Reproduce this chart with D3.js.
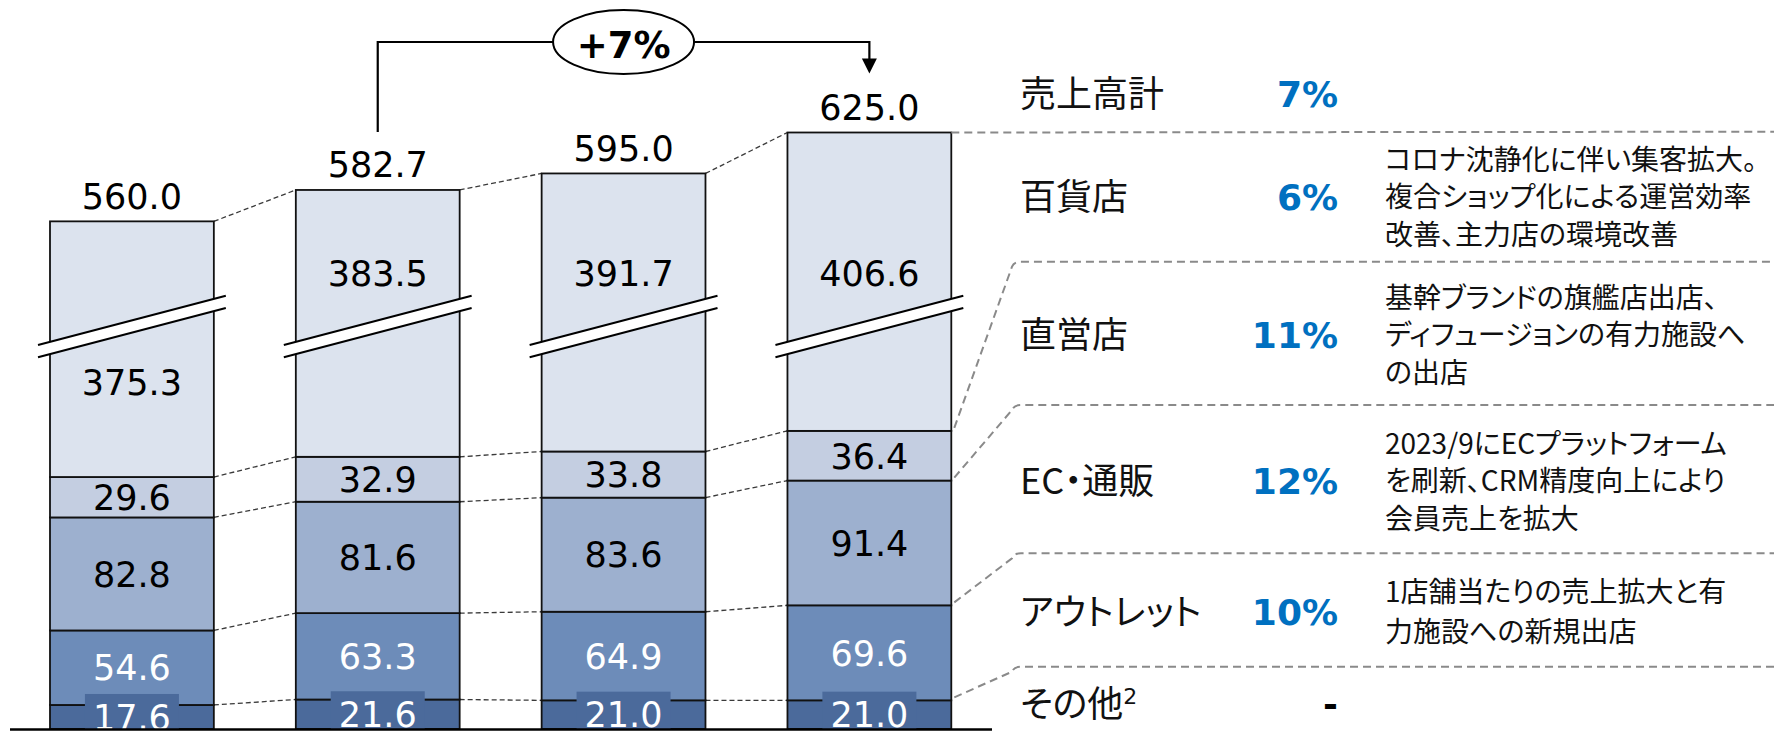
<!DOCTYPE html>
<html><head><meta charset="utf-8">
<script src="https://cdn.jsdelivr.net/npm/d3@7"></script>
<style>html,body{margin:0;padding:0;background:#fff;} svg{display:block;} .jp{font-feature-settings:"palt" 1;}</style>
</head><body><svg id="chart" width="1774" height="731"></svg>
<script>
// ---------------- data ----------------
const periods = ["P1", "P2", "P3", "P4"];
const segmentNames = ["その他", "アウトレット", "EC・通販", "直営店", "百貨店"];
const sonotaValues = [17.6, 21.6, 21.0, 21.0];
const outletValues = [54.6, 63.3, 64.9, 69.6];
const ecValues = [82.8, 81.6, 83.6, 91.4];
const chokueiValues = [29.6, 32.9, 33.8, 36.4];
const hyakkatenValues = [375.3, 383.5, 391.7, 406.6];
const totalValues = [560.0, 582.7, 595.0, 625.0];
const growthLabel = "+7%";
const axisBreakAmount = 188; // value units hidden by the axis break
const rowNames = ["売上高計", "百貨店", "直営店", "EC・通販", "アウトレット", "その他"];
const rowGrowth = ["7%", "6%", "11%", "12%", "10%", "-"];
const rowNotes = [
  [],
  ["コロナ沈静化に伴い集客拡大。", "複合ショップ化による運営効率", "改善、主力店の環境改善"],
  ["基幹ブランドの旗艦店出店、", "ディフュージョンの有力施設へ", "の出店"],
  ["2023/9にECプラットフォーム", "を刷新、CRM精度向上により", "会員売上を拡大"],
  ["1店舗当たりの売上拡大と有", "力施設への新規出店"],
  []
];

// ---------------- styles ----------------
const segColors = ["#4B6A9B", "#6D8CB9", "#9DB0CF", "#C4CEE1", "#DCE3EE"];
const segText = ["#ffffff", "#ffffff", "#000000", "#000000", "#000000"];
const numFont = "'DejaVu Sans', Verdana, sans-serif";
const jpFont = "'Noto Sans CJK JP', 'Noto Sans', sans-serif";

const svg = d3.select("#chart");
const baseY = 729;
const x = d3.scaleBand().domain(periods).range([50, 951.3]).paddingInner(0.3335).paddingOuter(0);
const bw = x.bandwidth();
const y = d3.scaleLinear().domain([0, 460]).range([baseY, baseY - 460 * 1.365]);

const seriesValues = [sonotaValues, outletValues, ecValues, chokueiValues, hyakkatenValues];
const stackData = periods.map((p, i) => {
  const o = { period: p };
  segmentNames.forEach((n, k) => o[n] = seriesValues[k][i]);
  return o;
});
const stacked = d3.stack().keys(segmentNames)(stackData);
const last = segmentNames.length - 1;
const yTop = (k, i) => y(k === last ? stacked[k][i][1] - axisBreakAmount : stacked[k][i][1]);
const yBot = (k, i) => y(stacked[k][i][0]);

// ---------- dashed connectors between bars ----------
const conn = svg.append("g");
for (let i = 0; i < periods.length - 1; i++) {
  for (let k = 0; k <= last; k++) {
    conn.append("line")
      .attr("x1", x(periods[i]) + bw).attr("y1", yTop(k, i))
      .attr("x2", x(periods[i + 1])).attr("y2", yTop(k, i + 1))
      .attr("stroke", "#3a3a3a").attr("stroke-width", 1.3).attr("stroke-dasharray", "5,3");
  }
}

// ---------- bars ----------
const bars = svg.append("g");
stacked.forEach((s, k) => {
  bars.selectAll(null).data(s).enter().append("rect")
    .attr("x", d => x(d.data.period))
    .attr("y", (d, i) => yTop(k, i))
    .attr("width", bw)
    .attr("height", (d, i) => yBot(k, i) - yTop(k, i))
    .attr("fill", segColors[k])
    .attr("stroke", "#111").attr("stroke-width", 1.8);
});

// ---------- axis break ----------
const breakCY = 326.5, halfGap = 6.2, slope = 0.2622, ext = 12;
periods.forEach(p => {
  const cx = x(p) + bw / 2;
  const x0 = x(p) - ext, x1 = x(p) + bw + ext;
  const up = xx => breakCY - halfGap - slope * (xx - cx);
  const lo = xx => breakCY + halfGap - slope * (xx - cx);
  svg.append("polygon")
    .attr("points", [[x0, up(x0)], [x1, up(x1)], [x1, lo(x1)], [x0, lo(x0)]].map(d => d.join(",")).join(" "))
    .attr("fill", "#fff");
  [up, lo].forEach(f => svg.append("line")
    .attr("x1", x0).attr("y1", f(x0)).attr("x2", x1).attr("y2", f(x1))
    .attr("stroke", "#000").attr("stroke-width", 2));
});

// ---------- segment labels ----------
const fs = 35;
const lbl = svg.append("g").attr("font-family", numFont).attr("font-size", fs).attr("text-anchor", "middle");
svg.append("clipPath").attr("id", "plotclip").append("rect")
  .attr("x", 0).attr("y", 0).attr("width", 1000).attr("height", baseY);
const lblClip = svg.append("g").attr("clip-path", "url(#plotclip)")
  .attr("font-family", numFont).attr("font-size", fs).attr("text-anchor", "middle");

stacked.forEach((s, k) => {
  s.forEach((d, i) => {
    const cx = x(d.data.period) + bw / 2;
    const v = d[1] - d[0];
    let cy;
    if (k === last) {
      const topPiece = (breakCY - halfGap) - yTop(k, i);
      cy = topPiece > 110 ? breakCY - 53 : breakCY + 55.5;
    } else {
      cy = (yTop(k, i) + yBot(k, i)) / 2;
    }
    const g = k === 0 ? lblClip : lbl;
    if (k === 0) {
      g.append("rect").attr("x", cx - 47).attr("y", cy - 23).attr("width", 94).attr("height", 46)
        .attr("fill", segColors[0]);
    }
    g.append("text").attr("x", cx).attr("y", cy + 0.365 * fs)
      .attr("fill", segText[k]).text(v.toFixed(1));
  });
});

// totals
periods.forEach((p, i) => {
  lbl.append("text").attr("x", x(p) + bw / 2).attr("y", yTop(last, i) - 12.5)
    .attr("fill", "#000").text(totalValues[i].toFixed(1));
});

// ---------- axis line ----------
svg.append("line").attr("x1", 10).attr("x2", 992).attr("y1", baseY + 0.5).attr("y2", baseY + 0.5)
  .attr("stroke", "#000").attr("stroke-width", 2.5);

// ---------- growth bracket ----------
const cxA = x(periods[1]) + bw / 2, cxB = x(periods[3]) + bw / 2;
const ecx = (cxA + cxB) / 2, ecy = 42, erx = 70.5, ery = 32;
const topA = yTop(last, 1) - 58, tipY = yTop(last, 3) - 59;
svg.append("path")
  .attr("d", `M${cxA},${topA}V${ecy}H${ecx - erx}M${ecx + erx},${ecy}H${cxB}V${tipY - 14}`)
  .attr("fill", "none").attr("stroke", "#000").attr("stroke-width", 2.2);
svg.append("polygon")
  .attr("points", `${cxB - 7.5},${tipY - 15} ${cxB + 7.5},${tipY - 15} ${cxB},${tipY}`)
  .attr("fill", "#000");
svg.append("ellipse").attr("cx", ecx).attr("cy", ecy).attr("rx", erx).attr("ry", ery)
  .attr("fill", "#fff").attr("stroke", "#000").attr("stroke-width", 2);
svg.append("text").attr("x", ecx).attr("y", ecy + 16.3)
  .attr("font-family", numFont).attr("font-weight", "bold").attr("font-size", 37)
  .attr("text-anchor", "middle").text(growthLabel);

// ---------- table ----------
const sepY = [131.7, 261.7, 405, 553.3, 666.7];
const sepLevel = [4, 3, 2, 1, 0];
const barRight = x(periods[3]) + bw;
sepY.forEach((sy, j) => {
  const by = yTop(sepLevel[j], 3);
  let d;
  if (Math.abs(by - sy) < 3) {
    d = `M${barRight},${by}L1774,${sy}`;
  } else {
    d = `M${barRight + 3},${by - 3}L1012,${sy + 5}Q1014,${sy} 1021,${sy}L1774,${sy}`;
  }
  svg.append("path").attr("d", d).attr("fill", "none")
    .attr("stroke", "#8a8a8a").attr("stroke-width", 2).attr("stroke-dasharray", "8,5");
});

const rowCY = [93.5, 196.7, 334.5, 480.5, 611.5, 703.5];
const nameX = 1020, pctX = 1338, noteX = 1385;
const noteFs = 28;
rowNames.forEach((n, j) => {
  const t = svg.append("text").attr("class", "jp").attr("x", nameX).attr("y", rowCY[j] + 0.38 * 36)
    .attr("font-family", jpFont).attr("font-size", 36).attr("fill", "#111");
  if (j === rowNames.length - 1) {
    t.append("tspan").text(n);
    t.append("tspan").attr("font-size", 22).attr("dy", -13).attr("font-family", numFont).text("2");
  } else {
    t.text(n);
  }
  svg.append("text").attr("x", pctX).attr("y", rowCY[j] + 0.365 * 36)
    .attr("font-family", numFont).attr("font-weight", "bold").attr("font-size", 36)
    .attr("text-anchor", "end").attr("fill", rowGrowth[j] === "-" ? "#000" : "#0070C0")
    .text(rowGrowth[j]);
  const lines = rowNotes[j];
  const lh = lines.length === 2 ? 40 : 37.5;
  lines.forEach((ln, m) => {
    const cy = rowCY[j] + (m - (lines.length - 1) / 2) * lh;
    svg.append("text").attr("class", "jp").attr("x", noteX).attr("y", cy + 0.38 * noteFs)
      .attr("font-family", jpFont).attr("font-size", noteFs).attr("fill", "#111").text(ln);
  });
});
</script>
</body></html>
